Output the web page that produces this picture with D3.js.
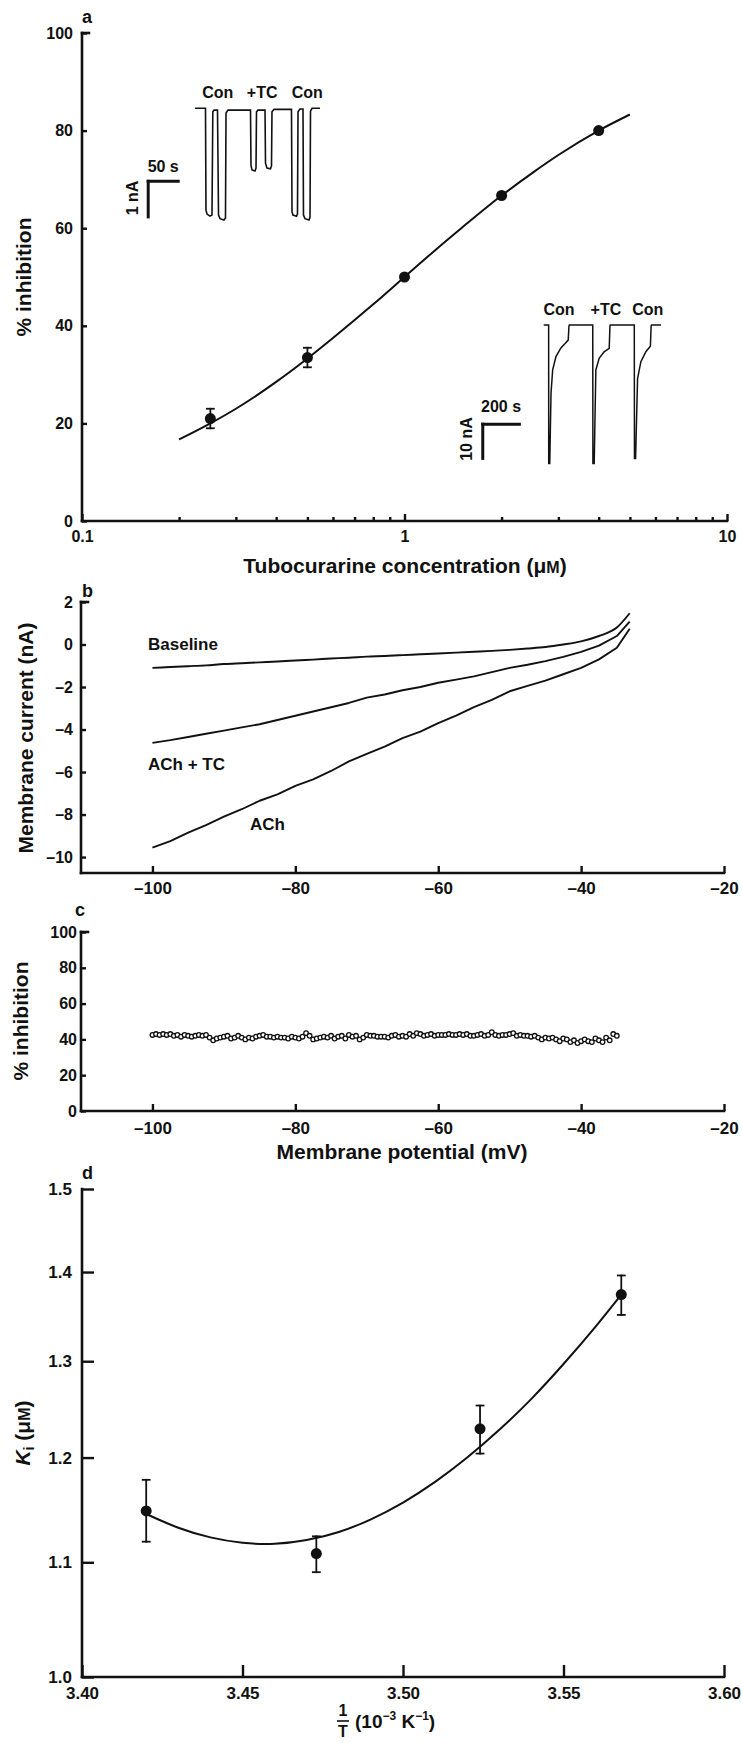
<!DOCTYPE html>
<html><head><meta charset="utf-8">
<script src="https://cdn.jsdelivr.net/npm/d3@7"></script>
<style>
body{margin:0;background:#fff;}
svg{display:block;}
text{font-family:"Liberation Sans",Arial,Helvetica,sans-serif;fill:#111;}
</style></head><body>
<svg id="fig" width="742" height="1743"></svg>
<script>
// ---------------- DATA ----------------
// Panel a: dose-response
const aConc = [0.25, 0.5, 1, 2, 4];
const aInhib = [21, 33.5, 50, 66.7, 80];
const aErr = [2, 2, 0, 0, 0];
const aFitConc = [0.2, 0.25, 0.3, 0.4, 0.5, 0.6, 0.8, 1, 1.25, 1.5, 2, 2.5, 3, 4, 5];
const aFitInhib = [16.7, 20, 23, 28.5, 33.3, 37.5, 44.4, 50, 55.6, 60, 66.7, 71.4, 75, 80, 83.3];
const aMajorTicks = [0.1, 1, 10];
const aMinorTicks = [0.2,0.3,0.4,0.5,0.6,0.7,0.8,0.9,2,3,4,5,6,7,8,9];
const aYTicks = [0, 20, 40, 60, 80, 100];

// Panel a inset 1 (time s, current nA)
const ins1T = [0,17.5,18.3,20,25,28.3,29.7,31.7,37.5,39.2,41.7,48.3,50.8,51.7,55,92.5,93.3,95,100,101.7,102.5,105,116.7,117.5,120,125.8,127.5,128.3,131.7,160.8,161.7,163.3,169.2,170.8,171.7,175,180,180.8,183.3,190,191.7,192.5,195,208.3];
const ins1I = [0,0,-2.86,-2.97,-3.03,-3.0,-0.1,-0.05,-0.05,-3.0,-3.1,-3.14,-3.08,-0.13,-0.05,-0.05,-1.6,-1.73,-1.76,-1.68,-0.1,-0.05,-0.05,-1.54,-1.68,-1.7,-1.62,-0.1,-0.03,-0.03,-2.91,-3.0,-3.03,-2.97,-0.1,-0.02,-0.02,-3.0,-3.1,-3.14,-3.06,-0.08,0,0];
const ins1Labels = ["Con", "+TC", "Con"];
const ins1LabelT = [38, 112, 187];

// Panel a inset 2 (time s, current nA)
const ins2T = [0,27,27.5,33,40,49,67,94,122,134,138,140,268,269,276,285,303,330,358,362,364,495,496,502,513,531,559,583,587,589,641];
const ins2I = [0,0,-40.4,-40.4,-19.9,-13.1,-9.2,-6.7,-5.1,-4.4,-0.3,0,0,-40.4,-40.4,-13.1,-9.7,-7.8,-6.8,-0.3,0,0,-38.9,-38.9,-15.6,-10.7,-7.7,-6.2,-0.3,0,0];
const ins2Labels = ["Con", "+TC", "Con"];
const ins2LabelT = [84, 340, 569];

// Panel b: I-V curves
const bPot = [-100,-97.5,-95,-92.5,-90,-87.5,-85,-82.5,-80,-77.5,-75,-72.5,-70,-67.5,-65,-62.5,-60,-57.5,-55,-52.5,-50,-47.5,-45,-42.5,-40,-37.5,-35,-33.2];
const bACh = [-9.56,-9.25,-8.85,-8.5,-8.1,-7.75,-7.35,-7.05,-6.65,-6.35,-5.95,-5.5,-5.15,-4.8,-4.4,-4.1,-3.7,-3.35,-2.95,-2.6,-2.2,-1.95,-1.7,-1.4,-1.1,-0.7,-0.15,0.74];
const bAChTC = [-4.63,-4.5,-4.35,-4.2,-4.05,-3.9,-3.75,-3.55,-3.35,-3.15,-2.95,-2.75,-2.5,-2.35,-2.15,-2.0,-1.8,-1.65,-1.5,-1.3,-1.1,-0.95,-0.78,-0.58,-0.35,-0.05,0.4,1.08];
const bBase = [-1.1,-1.06,-1.02,-0.98,-0.92,-0.88,-0.84,-0.8,-0.75,-0.71,-0.66,-0.62,-0.57,-0.54,-0.5,-0.46,-0.42,-0.38,-0.34,-0.3,-0.25,-0.19,-0.12,0.0,0.15,0.4,0.8,1.47];
const bYTicks = [2, 0, -2, -4, -6, -8, -10];
const vTicks = [-100, -80, -60, -40, -20];

// Panel c: % inhibition vs potential (sampled every 0.5 mV from -100)
const cStart = -100, cStep = 0.5;
const cInhib = [42.5,43,42.5,43,42.5,43,42,42.5,41.5,42.5,42,
 41.5,42,42.5,42,42.5,41,39.5,40.5,41,41.5,
 42,40.5,41,42,41,40,41,40.5,41.5,42,
 42.5,41.5,41.5,41,41.5,41,41,40.5,41.5,41,
 40.5,41.5,43.5,42,40,40.5,41,41.5,41,42,
 40.5,41.5,42,40.5,42.5,41.5,42,40,41,42.5,
 42,42,41.5,41.5,41.5,41,42,42.5,41.5,42,
 41.5,43,42,43.5,43,42,42.5,43,42,42.5,
 42.5,42.5,43,42.5,42.5,43,42.5,43,42,42,
 42.5,43,42,42.5,44,42.5,42,42.5,42.5,43,
 43.5,42,42.5,42,42,41.5,42,41,40,41,
 40.5,41,40,39,40.5,40,38.5,39.5,38,39,
 40,39,38.5,40.5,39.5,38.5,41,39.5,43,42];
const cYTicks = [0, 20, 40, 60, 80, 100];

// Panel d: Ki vs 1/T (log Ki axis)
const dInvT = [3.42, 3.473, 3.524, 3.568];
const dKi = [1.148, 1.108, 1.229, 1.374];
const dLo = [1.119, 1.091, 1.204, 1.351];
const dHi = [1.178, 1.124, 1.253, 1.396];
const dFitX = [3.42,3.43,3.44,3.45,3.46,3.47,3.48,3.49,3.50,3.51,3.52,3.53,3.54,3.55,3.56,3.568];
const dFitY = [1.145,1.132,1.123,1.118,1.117,1.1205,1.128,1.140,1.156,1.176,1.200,1.228,1.260,1.297,1.338,1.374];
const dXTicks = [3.40, 3.45, 3.50, 3.55, 3.60];
const dYTicks = [1.0, 1.1, 1.2, 1.3, 1.4, 1.5];

// ---------------- DRAW ----------------
const svg = d3.select('#fig');
svg.append('rect').attr('width',742).attr('height',1743).attr('fill','#fff');
const INK = '#111';
const EN = '\u2013';

function ln(g,x1,y1,x2,y2,w){
  return g.append('line').attr('x1',x1).attr('y1',y1).attr('x2',x2).attr('y2',y2)
    .attr('stroke',INK).attr('stroke-width',w).attr('stroke-linecap','square');
}
function styleAxis(sel, fs){
  sel.select('.domain').remove();
  sel.selectAll('.tick line').attr('stroke',INK).attr('stroke-width',2.4);
  sel.selectAll('.tick text').attr('font-size',fs).attr('font-weight','bold').attr('fill',INK)
     .attr('font-family','"Liberation Sans",Arial,sans-serif');
}
function fmtNeg(d){ return d < 0 ? EN + Math.abs(d) : String(d); }
function txt(g,x,y,s,fs,opt){
  opt = opt || {};
  const t = g.append('text').attr('x',x).attr('y',y).attr('font-size',fs)
    .attr('font-weight',opt.w || 'bold').attr('text-anchor',opt.a || 'start').text(s);
  if (opt.rot) t.attr('transform',`rotate(-90,${x},${y})`);
  return t;
}

// ===== Panel a =====
const gA = svg.append('g');
const xA = d3.scaleLog().domain([0.1,10]).range([82,727]);
const yA = d3.scaleLinear().domain([0,100]).range([521,33]);
gA.append('g').attr('transform','translate(0,521)')
  .call(d3.axisBottom(xA).tickValues(aMinorTicks).tickSize(-4).tickFormat(''))
  .call(s=>styleAxis(s,16));
gA.append('g').attr('transform','translate(0,521)')
  .call(d3.axisBottom(xA).tickValues(aMajorTicks).tickSize(-7).tickPadding(10).tickFormat(d=>String(d)))
  .call(s=>styleAxis(s,16));
gA.append('g').attr('transform','translate(82,0)')
  .call(d3.axisLeft(yA).tickValues(aYTicks).tickSize(-5).tickPadding(9))
  .call(s=>styleAxis(s,16));
ln(gA, xA(0.1), yA(0), xA(0.1), yA(100), 2.6);
ln(gA, xA(0.1), yA(0), xA(10), yA(0), 2.6);
ln(gA, xA(0.1), yA(100), xA(0.1)+7, yA(100), 2.6);

const aFit = aFitConc.map((c,i)=>[c,aFitInhib[i]]);
gA.append('path').attr('d', d3.line().x(d=>xA(d[0])).y(d=>yA(d[1])).curve(d3.curveMonotoneX)(aFit))
  .attr('fill','none').attr('stroke',INK).attr('stroke-width',2);
aConc.forEach((c,i)=>{
  if (aErr[i] > 0){
    ln(gA, xA(c), yA(aInhib[i]-aErr[i]), xA(c), yA(aInhib[i]+aErr[i]), 1.8);
    ln(gA, xA(c)-3.5, yA(aInhib[i]-aErr[i]), xA(c)+3.5, yA(aInhib[i]-aErr[i]), 1.8);
    ln(gA, xA(c)-3.5, yA(aInhib[i]+aErr[i]), xA(c)+3.5, yA(aInhib[i]+aErr[i]), 1.8);
  }
  gA.append('circle').attr('cx',xA(c)).attr('cy',yA(aInhib[i])).attr('r',5.5).attr('fill',INK);
});
txt(gA, 82, 23, 'a', 18);
txt(gA, 31, 277, '% inhibition', 21, {a:'middle', rot:true});
const tA = txt(gA, 405, 573, 'Tubocurarine concentration (\u03bc', 21, {a:'middle'});
tA.append('tspan').attr('font-size',16).text('M');
tA.append('tspan').text(')');

// Inset 1
const i1x = d3.scaleLinear().domain([0,50]).range([195,225]);
const i1y = d3.scaleLinear().domain([-1,0]).range([143.9,108.3]);
gA.append('path').attr('d', d3.line().x(d=>i1x(d[0])).y(d=>i1y(d[1]))(ins1T.map((t,i)=>[t,ins1I[i]])))
  .attr('fill','none').attr('stroke',INK).attr('stroke-width',1.6);
ins1Labels.forEach((s,i)=>txt(gA, i1x(ins1LabelT[i]), 98, s, 16, {a:'middle'}));
ln(gA, i1x(-78), i1y(-2.05), i1x(-28), i1y(-2.05), 3);
ln(gA, i1x(-78), i1y(-2.05), i1x(-78), i1y(-3.05), 3);
txt(gA, i1x(-53), 172, '50 s', 16, {a:'middle'});
txt(gA, 138, 198, '1 nA', 16, {a:'middle', rot:true});

// Inset 2
const i2x = d3.scaleLinear().domain([0,200]).range([543.7,580.3]);
const i2y = d3.scaleLinear().domain([-10,0]).range([359.3,325]);
gA.append('path').attr('d', d3.line().x(d=>i2x(d[0])).y(d=>i2y(d[1]))(ins2T.map((t,i)=>[t,ins2I[i]])))
  .attr('fill','none').attr('stroke',INK).attr('stroke-width',1.5);
ins2Labels.forEach((s,i)=>txt(gA, i2x(ins2LabelT[i]), 315, s, 16, {a:'middle'}));
ln(gA, i2x(-333), i2y(-28.9), i2x(-133), i2y(-28.9), 3);
ln(gA, i2x(-333), i2y(-28.9), i2x(-333), i2y(-38.9), 3);
txt(gA, i2x(-233), 412, '200 s', 16, {a:'middle'});
txt(gA, 472, 439, '10 nA', 16, {a:'middle', rot:true});

// ===== Panel b =====
const gB = svg.append('g');
const xB = d3.scaleLinear().domain([-110,-20]).range([81,724]);
const yB = d3.scaleLinear().domain([-10.75,2]).range([873,602]);
gB.append('g').attr('transform','translate(0,873)')
  .call(d3.axisBottom(xB).tickValues(vTicks).tickSize(-7).tickPadding(9).tickFormat(fmtNeg))
  .call(s=>styleAxis(s,17));
gB.append('g').attr('transform','translate(81,0)')
  .call(d3.axisLeft(yB).tickValues(bYTicks).tickSize(-5).tickPadding(8).tickFormat(fmtNeg))
  .call(s=>styleAxis(s,16));
ln(gB, 81, yB(-10.75), 81, yB(2), 2.6);
ln(gB, 81, 873, 724, 873, 2.6);
ln(gB, 81, yB(2), 88, yB(2), 2.6);
const lineB = d3.line().x(d=>xB(d[0])).y(d=>yB(d[1]));
gB.append('path').attr('d', lineB.curve(d3.curveMonotoneX)(bPot.map((v,i)=>[v,bBase[i]])))
  .attr('fill','none').attr('stroke',INK).attr('stroke-width',1.9);
lineB.curve(d3.curveLinear);
[bAChTC, bACh].forEach(arr=>{
  gB.append('path').attr('d', lineB(bPot.map((v,i)=>[v,arr[i]])))
    .attr('fill','none').attr('stroke',INK).attr('stroke-width',1.9).attr('stroke-linejoin','round');
});
txt(gB, 148, 650, 'Baseline', 17);
txt(gB, 148, 770, 'ACh + TC', 17);
txt(gB, 250, 830, 'ACh', 17);
txt(gB, 82, 597, 'b', 18);
txt(gB, 33, 738, 'Membrane current (nA)', 21, {a:'middle', rot:true});

// ===== Panel c =====
const gC = svg.append('g');
const xC = d3.scaleLinear().domain([-110,-20]).range([81,724]);
const yC = d3.scaleLinear().domain([0,100]).range([1111,932]);
gC.append('g').attr('transform','translate(0,1111)')
  .call(d3.axisBottom(xC).tickValues(vTicks).tickSize(-7).tickPadding(11).tickFormat(fmtNeg))
  .call(s=>styleAxis(s,17));
gC.append('g').attr('transform','translate(81,0)')
  .call(d3.axisLeft(yC).tickValues(cYTicks).tickSize(-5).tickPadding(4))
  .call(s=>styleAxis(s,16));
ln(gC, 81, 1111, 81, 932, 2.6);
ln(gC, 81, 1111, 724, 1111, 2.6);
ln(gC, 81, 932, 88, 932, 2.6);
gC.selectAll('circle.c').data(cInhib).enter().append('circle')
  .attr('cx',(d,i)=>xC(cStart + i*cStep)).attr('cy',d=>yC(d)).attr('r',2.3)
  .attr('fill','#fff').attr('stroke',INK).attr('stroke-width',1.3);
txt(gC, 75, 916, 'c', 18);
txt(gC, 28, 1021, '% inhibition', 21, {a:'middle', rot:true});
txt(gC, 402, 1159, 'Membrane potential (mV)', 21, {a:'middle'});

// ===== Panel d =====
const gD = svg.append('g');
const xD = d3.scaleLinear().domain([3.40,3.60]).range([82,724]);
const yD = d3.scaleLog().domain([1.0,1.5]).range([1677,1189]);
gD.append('g').attr('transform','translate(0,1677)')
  .call(d3.axisBottom(xD).tickValues(dXTicks).tickSize(-12).tickPadding(10).tickFormat(d3.format('.2f')))
  .call(s=>styleAxis(s,17));
gD.append('g').attr('transform','translate(82,0)')
  .call(d3.axisLeft(yD).tickValues(dYTicks).tickSize(-12).tickPadding(10).tickFormat(d3.format('.1f')))
  .call(s=>styleAxis(s,17));
ln(gD, 82, 1677, 82, 1189, 2.6);
ln(gD, 82, 1677, 724, 1677, 2.6);
gD.append('path').attr('d', d3.line().x(d=>xD(d[0])).y(d=>yD(d[1])).curve(d3.curveNatural)(dFitX.map((x,i)=>[x,dFitY[i]])))
  .attr('fill','none').attr('stroke',INK).attr('stroke-width',2);
dInvT.forEach((x,i)=>{
  ln(gD, xD(x), yD(dLo[i]), xD(x), yD(dHi[i]), 1.8);
  ln(gD, xD(x)-3.5, yD(dLo[i]), xD(x)+3.5, yD(dLo[i]), 1.8);
  ln(gD, xD(x)-3.5, yD(dHi[i]), xD(x)+3.5, yD(dHi[i]), 1.8);
  gD.append('circle').attr('cx',xD(x)).attr('cy',yD(dKi[i])).attr('r',5.5).attr('fill',INK);
});
txt(gD, 82, 1179, 'd', 18);
const tK = gD.append('text').attr('x',30).attr('y',1433).attr('font-size',21).attr('font-weight','bold')
  .attr('text-anchor','middle').attr('transform','rotate(-90,30,1433)');
tK.append('tspan').attr('font-style','italic').text('K');
tK.append('tspan').attr('font-size',14).attr('dy',4).text('i');
tK.append('tspan').attr('dy',-4).text(' (\u03bc');
tK.append('tspan').attr('font-size',16).text('M');
tK.append('tspan').text(')');
// x label: 1/T (10^-3 K^-1)
txt(gD, 343, 1716, '1', 16, {a:'middle', w:'bold'});
ln(gD, 337, 1721, 349, 1721, 1.6).attr('stroke-linecap','butt');
txt(gD, 343, 1737, 'T', 16, {a:'middle', w:'bold'});
const tX = gD.append('text').attr('x',355).attr('y',1728).attr('font-size',19).attr('font-weight','bold');
tX.append('tspan').text('(10');
tX.append('tspan').attr('font-size',12).attr('dy',-8).text('\u22123');
tX.append('tspan').attr('dy',8).text(' K');
tX.append('tspan').attr('font-size',12).attr('dy',-8).text('\u22121');
tX.append('tspan').attr('dy',8).text(')');
</script>
</body></html>
